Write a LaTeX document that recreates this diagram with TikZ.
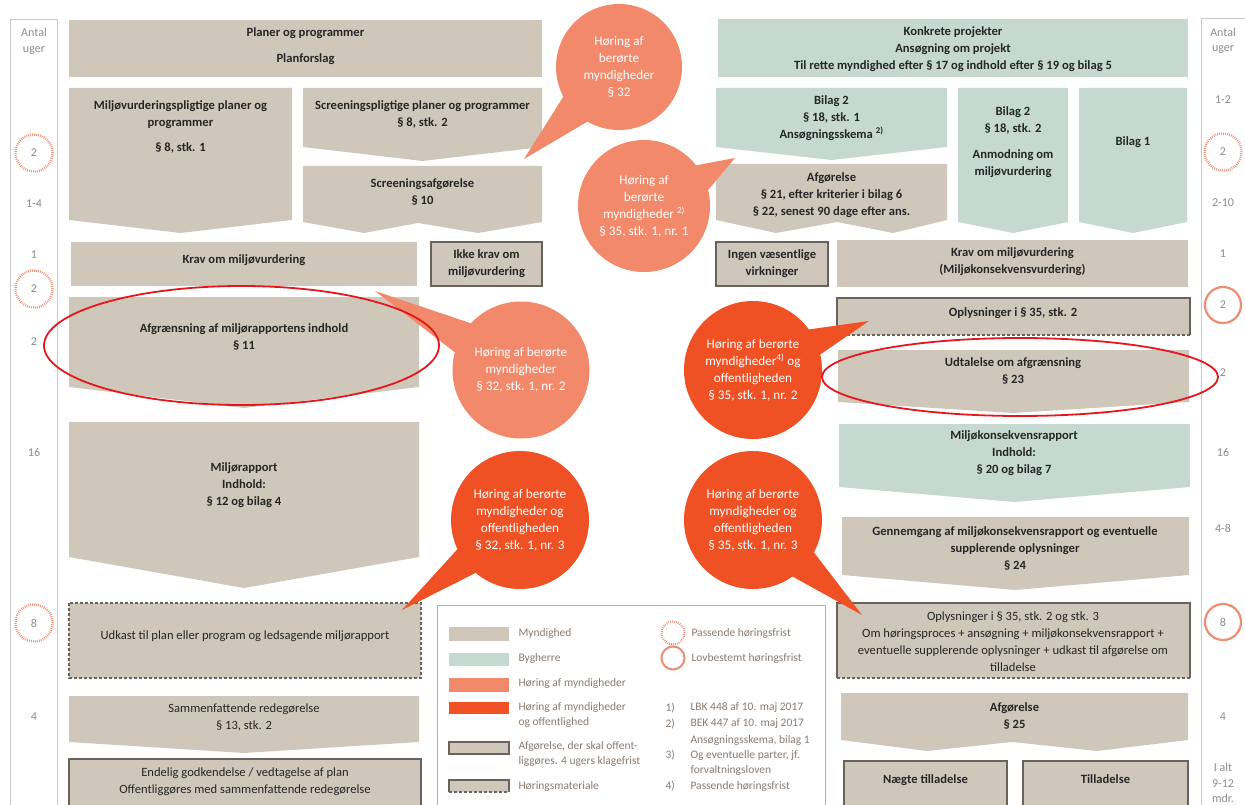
\documentclass[tikz,border=0pt]{standalone}
\usepackage{fontspec}
\setmainfont{Carlito}
\definecolor{myn}{HTML}{D0C7BB}
\definecolor{byg}{HTML}{C5D9D1}
\definecolor{hoerlys}{HTML}{F3896B}
\definecolor{hoermork}{HTML}{EF5125}
\definecolor{tekst}{HTML}{262626}
\definecolor{rodring}{HTML}{E5171D}
\definecolor{ringfarve}{HTML}{F08C72}
\definecolor{kolgraa}{HTML}{8C8C8C}
\definecolor{legfarve}{HTML}{8A7B70}
\definecolor{rammegraa}{HTML}{C9C9C9}
\definecolor{kant}{HTML}{6B635B}
\tikzset{
	boxtxt/.style={font=\bfseries\fontsize{12.6}{17}\selectfont,align=center,text=tekst},
	boxtxtn/.style={font=\fontsize{12.6}{17}\selectfont,align=center,text=tekst},
	koltxt/.style={font=\fontsize{12}{15.5}\selectfont,align=center,text=kolgraa},
	legtxt/.style={font=\fontsize{11.5}{15.5}\selectfont,align=left,anchor=west,text=legfarve},
	boble/.style={circle,inner sep=0pt,outer sep=0pt,text=white,align=center,font=\fontsize{13.2}{17}\selectfont},
	afgboks/.style={fill=myn,draw=kant,line width=1.6pt},
	hoermat/.style={draw=kant,line width=1.2pt,dash pattern=on 3pt off 2pt},
	passende/.style={circle,draw=ringfarve,line width=2.4pt,dash pattern=on 0.8pt off 1.2pt,minimum size=37pt,inner sep=0pt},
	lovbestemt/.style={circle,draw=ringfarve,line width=2.2pt,minimum size=36pt,inner sep=0pt},
	ramme/.style={draw=rammegraa,line width=1pt},
}
\begin{document}
\begin{tikzpicture}[x=1pt,y=-1pt]
	\useasboundingbox (0,0) rectangle (1245,805);
	\clip (0,0) rectangle (1245,805);

	\draw[ramme] (10,20) rectangle (57,830);
	\draw[ramme] (1201,19) rectangle (1270,830);
	\node[koltxt] (vuger) at (34,41.5) {Antal\\uger};
	\node[koltxt] (huger) at (1223,41) {Antal\\uger};
	\foreach \yy/\tal [count=\i] in {204/1-4, 255/1, 342/2, 452/16, 717/4}
		\node[koltxt] (v\i) at (34,\yy) {\tal};
	\foreach \yy/\tal [count=\i] in {100/1-2, 203/2-10, 254/1, 373/2, 452/16, 528/4-8, 717/4}
		\node[koltxt] (h\i) at (1223,\yy) {\tal};
	\foreach \yy/\tal [count=\i] in {153/2, 289/2, 623/8}
		\node[koltxt,passende] (vr\i) at (34,\yy) {\tal};
	\node[koltxt,passende] (hr1) at (1223,152) {2};
	\node[koltxt,lovbestemt] (hr2) at (1223,305) {2};
	\node[koltxt,lovbestemt] (hr3) at (1223,622) {8};
	\node[koltxt] (ialt) at (1223,783) {I alt\\9-12\\mdr.};

	\fill[myn] (69,20) rectangle (542,77);
	\node[boxtxt] (planer) at (305.5,46) {Planer og programmer\\[9pt]Planforslag};
	\fill[myn] (69,88) -- (292,88) -- (292,220) -- (180.5,233) -- (69,220) -- cycle;
	\node[boxtxt] (mvpligt) at (180.5,127) {Miljøvurderingspligtige planer og\\programmer\\[8pt]§ 8, stk. 1};
	\fill[myn] (303,88) -- (542,88) -- (542,147) -- (422.5,161) -- (303,147) -- cycle;
	\node[boxtxt] (scrpligt) at (422.5,114) {Screeningspligtige planer og programmer\\§ 8, stk. 2};
	\fill[myn] (303,166) -- (542,166) -- (542,222) -- (478,233) -- (418,223) -- (364,233) -- (303,222) -- cycle;
	\node[boxtxt] (scrafg) at (422.5,192) {Screeningsafgørelse\\§ 10};
	\fill[myn] (71,242) rectangle (417,286);
	\node[boxtxt] (krav) at (244,260) {Krav om miljøvurdering};
	\draw[afgboks] (431,242) rectangle (542,286);
	\node[boxtxt] (ikkekrav) at (486.5,264) {Ikke krav om\\miljøvurdering};
	\fill[myn] (69,297) -- (419,297) -- (419,387) -- (244,408) -- (69,387) -- cycle;
	\node[boxtxt] (afgr) at (244,337) {Afgrænsning af miljørapportens indhold\\§ 11};
	\fill[myn] (69,422) -- (419,422) -- (419,557) -- (244,588) -- (69,557) -- cycle;
	\node[boxtxt] (mrapport) at (244,485) {Miljørapport\\Indhold:\\§ 12 og bilag 4};
	\fill[myn] (69,603) rectangle (421,678);
	\draw[hoermat] (69,603) rectangle (421,678);
	\node[boxtxtn] (udkast) at (245,636) {Udkast til plan eller program og ledsagende miljørapport};
	\fill[myn] (69,696) -- (419,696) -- (419,742) -- (244,753) -- (69,742) -- cycle;
	\node[boxtxtn] (sammen) at (244,717) {Sammenfattende redegørelse\\§ 13, stk. 2};
	\draw[afgboks] (69,759) rectangle (421,830);
	\node[boxtxtn] (endelig) at (245,782) {Endelig godkendelse / vedtagelse af plan\\Offentliggøres med sammenfattende redegørelse};

	\fill[byg] (718,19) rectangle (1188,77);
	\node[boxtxt] (konkret) at (953,49.5) {Konkrete projekter\\Ansøgning om projekt\\Til rette myndighed efter § 17 og indhold efter § 19 og bilag 5};
	\fill[byg] (716,88) -- (947,88) -- (947,147) -- (831.5,160) -- (716,147) -- cycle;
	\node[boxtxt] (bilag2a) at (831.5,118) {Bilag 2\\§ 18, stk. 1\\Ansøgningsskema \textsuperscript{2)}};
	\fill[myn] (716,164) -- (947,164) -- (947,220) -- (893,233) -- (837,222) -- (776,233) -- (716,220) -- cycle;
	\node[boxtxt] (afg21) at (831.5,195) {Afgørelse\\§ 21, efter kriterier i bilag 6\\§ 22, senest 90 dage efter ans.};
	\fill[byg] (958,88) -- (1068,88) -- (1068,222) -- (1013,233) -- (958,222) -- cycle;
	\node[boxtxt] (bilag2b) at (1013,142) {Bilag 2\\§ 18, stk. 2\\[9pt]Anmodning om\\miljøvurdering};
	\fill[byg] (1079,88) -- (1187,88) -- (1187,222) -- (1133,233) -- (1079,222) -- cycle;
	\node[boxtxt] (bilag1) at (1133,142) {Bilag 1};
	\draw[afgboks] (716,242) rectangle (828,286);
	\node[boxtxt] (ingen) at (772,264) {Ingen væsentlige\\virkninger};
	\fill[myn] (837,240) rectangle (1188,287);
	\node[boxtxt] (kravmkv) at (1012.5,262) {Krav om miljøvurdering\\(Miljøkonsekvensvurdering)};
	\fill[myn] (837,298) rectangle (1190,335);
	\draw[kant,line width=1.2pt] (837,335) -- (837,298) -- (1190,298) -- (1190,335);
	\draw[hoermat] (837,335) -- (1190,335);
	\node[boxtxt] (oplys2) at (1013,313) {Oplysninger i § 35, stk. 2};
	\fill[myn] (838,350) -- (1189,350) -- (1189,402) -- (1013,413) -- (838,402) -- cycle;
	\node[boxtxt] (udtal) at (1013,371) {Udtalelse om afgrænsning\\§ 23};
	\fill[byg] (839,424) -- (1190,424) -- (1190,487) -- (1014,502) -- (839,487) -- cycle;
	\node[boxtxt] (mkvrapport) at (1014,453) {Miljøkonsekvensrapport\\Indhold:\\§ 20 og bilag 7};
	\fill[myn] (842,517) -- (1189,517) -- (1189,575) -- (1015,590) -- (842,575) -- cycle;
	\node[boxtxt] (gennemg) at (1015,548) {Gennemgang af miljøkonsekvensrapport og eventuelle\\supplerende oplysninger\\§ 24};
	\fill[myn] (837,603) rectangle (1190,678);
	\draw[kant,line width=1.2pt] (837,678) -- (837,603) -- (1190,603) -- (1190,678);
	\draw[hoermat] (837,678) -- (1190,678);
	\node[boxtxtn] (oplys3) at (1013,642) {Oplysninger i § 35, stk. 2 og stk. 3\\Om høringsproces + ansøgning + miljøkonsekvensrapport +\\eventuelle supplerende oplysninger + udkast til afgørelse om\\tilladelse};
	\fill[myn] (841,693) -- (1188,693) -- (1188,740) -- (1097,751) -- (1012,742) -- (927,751) -- (841,740) -- cycle;
	\node[boxtxt] (afg25) at (1014.5,716) {Afgørelse\\§ 25};
	\draw[afgboks] (844,761) rectangle (1007,830);
	\node[boxtxt] (naegte) at (925.5,780) {Nægte tilladelse};
	\draw[afgboks] (1023,761) rectangle (1188,830);
	\node[boxtxt] (tillad) at (1105.5,779) {Tilladelse};

	\draw[draw=legfarve!60,fill=white,line width=1pt] (437,605) rectangle (825,830);
	\fill[myn] (449,627) rectangle (509,641);
	\node[legtxt] (lmyn) at (515,633) {Myndighed};
	\fill[byg] (449,653) rectangle (509,666);
	\node[legtxt] (lbyg) at (515,658) {Bygherre};
	\fill[hoerlys] (449,678) rectangle (509,692);
	\node[legtxt] (lhoer) at (515,683) {Høring af myndigheder};
	\fill[hoermork] (449,702) rectangle (509,714);
	\node[legtxt] (lhoeroff) at (515,715) {Høring af myndigheder\\og offentlighed};
	\draw[afgboks,line width=1.3pt] (449,742) rectangle (509,754);
	\node[legtxt] (lafg) at (515,754) {Afgørelse, der skal offent-\\liggøres. 4 ugers klagefrist};
	\fill[myn] (449,780) rectangle (509,792);
	\draw[kant,line width=1.2pt] (449,792) -- (449,780) -- (509,780) -- (509,792);
	\draw[hoermat] (449,792) -- (509,792);
	\node[legtxt] (lmat) at (515,786) {Høringsmateriale};
	\node[passende,minimum size=23pt,line width=2pt] (lpas) at (673,633) {};
	\node[legtxt] (lpastxt) at (688,633) {Passende høringsfrist};
	\node[lovbestemt,minimum size=23pt,line width=2pt] (llov) at (673,658) {};
	\node[legtxt] (llovtxt) at (688,658) {Lovbestemt høringsfrist};
	\foreach \yy/\nr/\txt [count=\i] in {708/1)/LBK 448 af 10. maj 2017, 724/2)/BEK 447 af 10. maj 2017, 755/3)/{Og eventuelle parter, jf.}, 786/4)/Passende høringsfrist}{
		\node[legtxt] (fn\i) at (662,\yy) {\nr};
		\node[legtxt] (fntxt\i) at (687,\yy) {\txt};
	}
	\node[legtxt] (fn2b) at (687,740) {Ansøgningsskema, bilag 1};
	\node[legtxt] (fn3b) at (687,770) {forvaltningsloven};

	\node[boble,fill=hoerlys,minimum size=126pt] (b32) at (619,67) {Høring af\\berørte\\myndigheder\\§ 32};
	\coordinate (s32) at (524,159);
	\fill[hoerlys] (b32.208) -- (s32) -- (b32.240) -- cycle;
	\node[boble,fill=hoerlys,minimum size=132pt] (b35a) at (644,206) {Høring af\\berørte\\myndigheder \textsuperscript{2)}\\§ 35, stk. 1, nr. 1};
	\coordinate (s35a) at (735,158);
	\fill[hoerlys] (b35a.38) -- (s35a) -- (b35a.14) -- cycle;
	\node[boble,fill=hoerlys,minimum size=137pt] (b32b) at (521,370) {Høring af berørte\\myndigheder\\§ 32, stk. 1, nr. 2};
	\coordinate (s32b) at (375,291);
	\fill[hoerlys] (b32b.137) -- (s32b) -- (b32b.165) -- cycle;
	\node[boble,fill=hoermork,minimum size=138pt] (b32c) at (520,520) {Høring af berørte\\myndigheder og\\offentligheden\\§ 32, stk. 1, nr. 3};
	\coordinate (s32c) at (402,610);
	\fill[hoermork] (b32c.205) -- (s32c) -- (b32c.230) -- cycle;
	\node[boble,fill=hoermork,minimum size=138pt] (b35b) at (753,370) {Høring af berørte\\myndigheder\textsuperscript{4)} og\\offentligheden\\§ 35, stk. 1, nr. 2};
	\coordinate (s35b) at (869,321);
	\fill[hoermork] (b35b.36) -- (s35b) -- (b35b.13) -- cycle;
	\node[boble,fill=hoermork,minimum size=138pt] (b35c) at (753,520) {Høring af berørte\\myndigheder og\\offentligheden\\§ 35, stk. 1, nr. 3};
	\coordinate (s35c) at (862,615);
	\fill[hoermork] (b35c.-28) -- (s35c) -- (b35c.-55) -- cycle;

	\draw[rodring,line width=1.8pt] (241.5,345.5) ellipse [x radius=197.5pt, y radius=59.5pt];
	\draw[rodring,line width=1.8pt] (1020,377) ellipse [x radius=198pt, y radius=39pt];
\end{tikzpicture}
\end{document}
